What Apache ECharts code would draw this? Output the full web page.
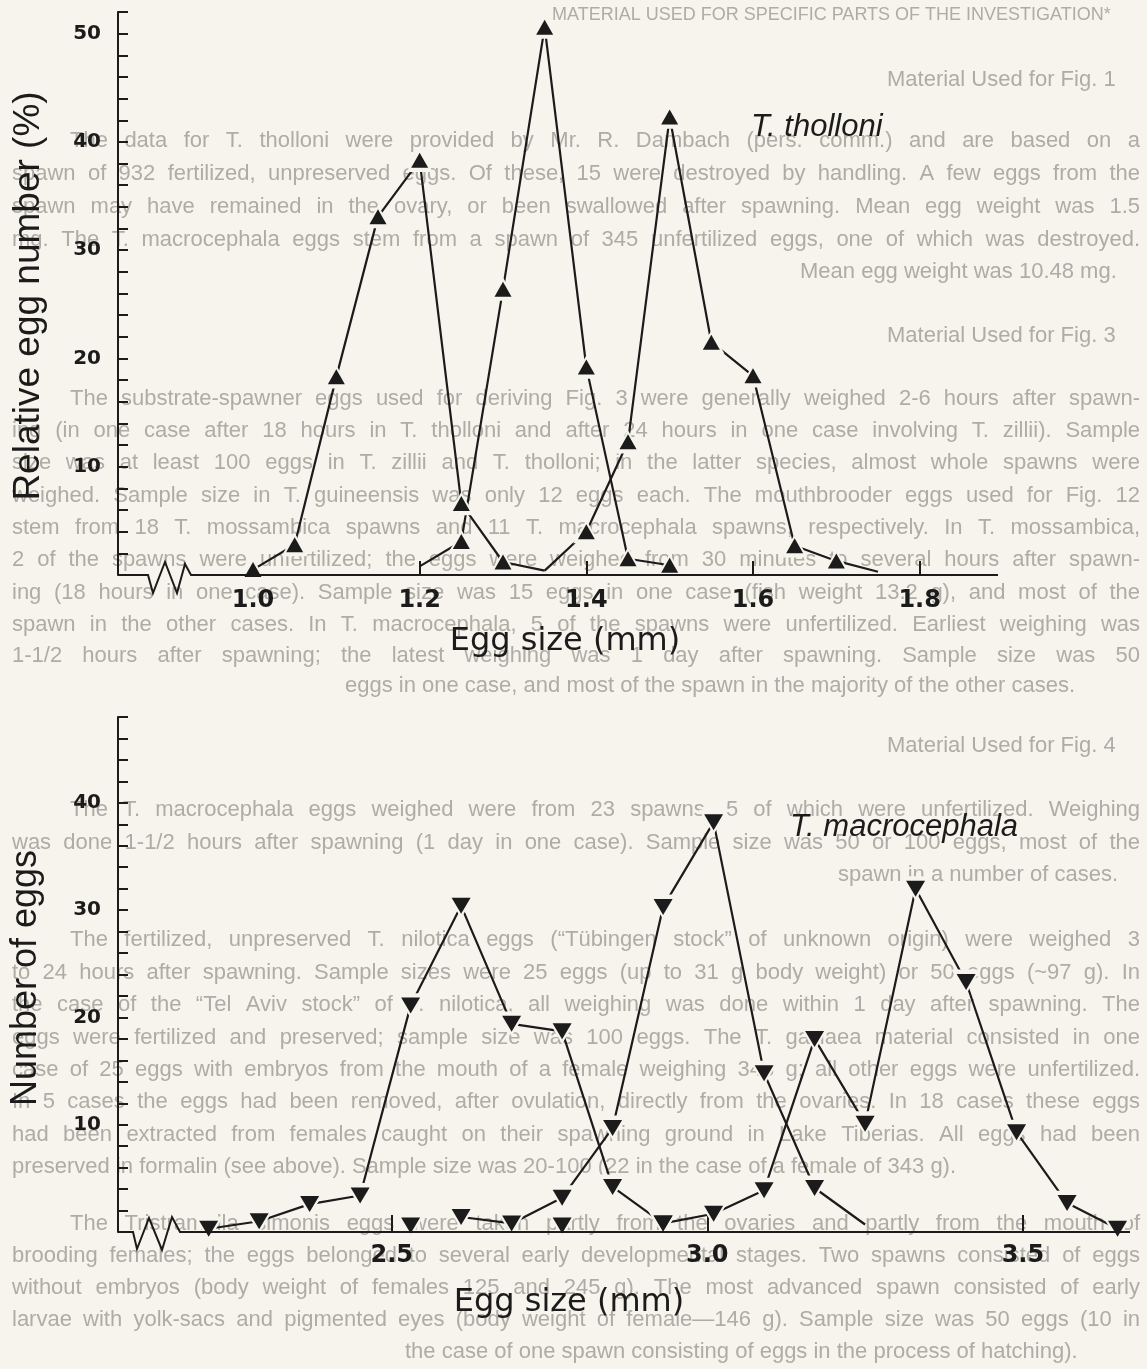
<!DOCTYPE html>
<html>
<head>
<meta charset="utf-8">
<script src="https://cdn.jsdelivr.net/npm/echarts@6/dist/echarts.min.js"></script>
<style>
  html, body { margin: 0; padding: 0; background: #f6f4ec; }
  #chart { width: 1147px; height: 1369px; }
</style>
</head>
<body>
<div id="chart"></div>
<script>
// ---- T. tholloni: relative egg number (%) per egg-size class, three spawns ----
const thollSize = [1.00, 1.05, 1.10, 1.15, 1.20, 1.25, 1.30, 1.35, 1.40, 1.45, 1.50, 1.55, 1.60, 1.65, 1.70, 1.75];
const thollPct1 = [0.5, 2.8, 18.3, 33.1, 38.3, 6.6, 1.2, 0.4, null, null, null, null, null, null, null, null];
const thollPct2 = [null, null, null, null, 0.8, 3.1, 26.4, 50.6, 19.2, 1.5, 0.9, null, null, null, null, null];
const thollPct3 = [null, null, null, null, null, null, null, 0.4, 4.0, 12.3, 42.3, 21.5, 18.4, 2.7, 1.3, 0.3];
// line ends that carry no marker
const thollBare1 = [7];
const thollBare2 = [4];
const thollBare3 = [7, 15];
const thollTicks = [1.2, 1.4, 1.6, 1.8];
const thollLabels = [1.0, 1.2, 1.4, 1.6, 1.8];

// ---- T. macrocephala: number of eggs per egg-size class, three spawns ----
const macroSize = [2.21, 2.29, 2.37, 2.45, 2.53, 2.61, 2.69, 2.77, 2.85, 2.93, 3.01, 3.09, 3.17, 3.25, 3.33, 3.41, 3.49, 3.57, 3.65];
const macroEggs1 = [0.3, 1.0, 2.6, 3.4, 21.1, 30.4, 19.4, 18.7, 4.2, 0.8, null, null, null, null, null, null, null, null, null];
const macroEggs2 = [null, null, null, null, null, 1.4, 0.8, 3.2, 9.7, 30.3, 38.2, 14.8, 4.1, 0.7, null, null, null, null, null];
const macroEggs3 = [null, null, null, null, null, null, null, null, null, 0.8, 1.7, 3.9, 18.0, 10.1, 32.0, 23.3, 9.3, 2.7, 0.3];
const macroSingle = [null, null, null, null, 0.6, null, null, 0.6, null, null, null, null, null, null, null, null, null, null, null];
const macroBare1 = [];
const macroBare2 = [13];
const macroBare3 = [];
const macroTicks = [2.5, 3.0, 3.5];

// ---- page text printed underneath the figure ----
const pageLines = [
  { y: 15,  x: 552, text: 'MATERIAL USED FOR SPECIFIC PARTS OF THE INVESTIGATION*', size: 18 },
  { y: 80,  x: 887, text: 'Material Used for Fig. 1' },
  { y: 141, indent: true, text: 'The data for T. tholloni were provided by Mr. R. Dambach (pers. comm.) and are based on a' },
  { y: 174, text: 'spawn of 932 fertilized, unpreserved eggs. Of these, 15 were destroyed by handling. A few eggs from the' },
  { y: 207, text: 'spawn may have remained in the ovary, or been swallowed after spawning. Mean egg weight was 1.5' },
  { y: 240, text: 'mg. The T. macrocephala eggs stem from a spawn of 345 unfertilized eggs, one of which was destroyed.' },
  { y: 272, x: 800, text: 'Mean egg weight was 10.48 mg.' },
  { y: 336, x: 887, text: 'Material Used for Fig. 3' },
  { y: 399, indent: true, text: 'The substrate-spawner eggs used for deriving Fig. 3 were generally weighed 2-6 hours after spawn-' },
  { y: 431, text: 'ing (in one case after 18 hours in T. tholloni and after 24 hours in one case involving T. zillii). Sample' },
  { y: 463, text: 'size was at least 100 eggs in T. zillii and T. tholloni; in the latter species, almost whole spawns were' },
  { y: 496, text: 'weighed. Sample size in T. guineensis was only 12 eggs each. The mouthbrooder eggs used for Fig. 12' },
  { y: 528, text: 'stem from 18 T. mossambica spawns and 11 T. macrocephala spawns, respectively. In T. mossambica,' },
  { y: 560, text: '2 of the spawns were unfertilized; the eggs were weighed from 30 minutes to several hours after spawn-' },
  { y: 593, text: 'ing (18 hours in one case). Sample size was 15 eggs in one case (fish weight 13.2 g), and most of the' },
  { y: 625, text: 'spawn in the other cases. In T. macrocephala, 5 of the spawns were unfertilized. Earliest weighing was' },
  { y: 656, text: '1-1/2 hours after spawning; the latest weighing was 1 day after spawning. Sample size was 50' },
  { y: 686, x: 345, text: 'eggs in one case, and most of the spawn in the majority of the other cases.' },
  { y: 746, x: 887, text: 'Material Used for Fig. 4' },
  { y: 810, indent: true, text: 'The T. macrocephala eggs weighed were from 23 spawns, 5 of which were unfertilized. Weighing' },
  { y: 843, text: 'was done 1-1/2 hours after spawning (1 day in one case). Sample size was 50 or 100 eggs, most of the' },
  { y: 875, x: 838, text: 'spawn in a number of cases.' },
  { y: 940, indent: true, text: 'The fertilized, unpreserved T. nilotica eggs (\u201cT\u00fcbingen stock\u201d of unknown origin) were weighed 3' },
  { y: 973, text: 'to 24 hours after spawning. Sample sizes were 25 eggs (up to 31 g body weight) or 50 eggs (~97 g). In' },
  { y: 1005, text: 'the case of the \u201cTel Aviv stock\u201d of T. nilotica, all weighing was done within 1 day after spawning. The' },
  { y: 1038, text: 'eggs were fertilized and preserved; sample size was 100 eggs. The T. galilaea material consisted in one' },
  { y: 1070, text: 'case of 25 eggs with embryos from the mouth of a female weighing 343 g; all other eggs were unfertilized.' },
  { y: 1102, text: 'In 5 cases the eggs had been removed, after ovulation, directly from the ovaries. In 18 cases these eggs' },
  { y: 1135, text: 'had been extracted from females caught on their spawning ground in Lake Tiberias. All eggs had been' },
  { y: 1167, x: 12, text: 'preserved in formalin (see above). Sample size was 20-100 (22 in the case of a female of 343 g).' },
  { y: 1224, indent: true, text: 'The Tristramella simonis eggs were taken partly from the ovaries and partly from the mouth of' },
  { y: 1256, text: 'brooding females; the eggs belonged to several early developmental stages. Two spawns consisted of eggs' },
  { y: 1288, text: 'without embryos (body weight of females 125 and 245 g). The most advanced spawn consisted of early' },
  { y: 1320, text: 'larvae with yolk-sacs and pigmented eyes (body weight of female\u2014146 g). Sample size was 50 eggs (10 in' },
  { y: 1352, x: 405, text: 'the case of one spawn consisting of eggs in the process of hatching).' }
];

const INK = '#1b1b1b';
const PAPER = '#f6f4ec';
const FADED = '#aeaca5';

function linePoints(sizes, vals) {
  const out = [];
  sizes.forEach((s, i) => { if (vals[i] != null) out.push([s, vals[i]]); });
  return out;
}
function markPoints(sizes, vals, bare) {
  const out = [];
  sizes.forEach((s, i) => { if (vals[i] != null && bare.indexOf(i) < 0) out.push([s, vals[i]]); });
  return out;
}

const series = [];
function addCurve(gi, sizes, vals, bare, down, noLine) {
  if (!noLine) {
    series.push({
      type: 'line', xAxisIndex: gi, yAxisIndex: gi, z: 2,
      data: linePoints(sizes, vals), showSymbol: false, symbol: 'none',
      lineStyle: { color: INK, width: 2.2 }, silent: true
    });
  }
  const pts = markPoints(sizes, vals, bare);
  const base = down ? [19, 16] : [17, 15];
  // paper-coloured halo keeps the joining lines clear of each marker
  series.push({
    type: 'scatter', xAxisIndex: gi, yAxisIndex: gi, z: 3,
    data: pts, symbol: 'triangle', symbolRotate: down ? 180 : 0,
    symbolSize: [base[0] * 1.55, base[1] * 1.55],
    itemStyle: { color: PAPER, opacity: 1 }, silent: true
  });
  series.push({
    type: 'scatter', xAxisIndex: gi, yAxisIndex: gi, z: 5,
    data: pts, symbol: 'triangle', symbolRotate: down ? 180 : 0,
    symbolSize: base, itemStyle: { color: INK, opacity: 1 }, silent: true
  });
}
addCurve(0, thollSize, thollPct1, thollBare1, false);
addCurve(0, thollSize, thollPct2, thollBare2, false);
addCurve(0, thollSize, thollPct3, thollBare3, false);
addCurve(1, macroSize, macroEggs1, macroBare1, true);
addCurve(1, macroSize, macroEggs2, macroBare2, true);
addCurve(1, macroSize, macroEggs3, macroBare3, true);
addCurve(1, macroSize, macroSingle, [], true, true);

function yAxisCfg(gi, max) {
  return {
    type: 'value', gridIndex: gi, min: 0, max: max, interval: 2,
    axisLine: { show: true, lineStyle: { color: INK, width: 2 } },
    axisTick: { show: true, inside: true, length: 10, lineStyle: { color: INK, width: 2 } },
    axisLabel: {
      margin: 17, color: INK, fontFamily: 'DejaVu Sans', fontWeight: 'bold', fontSize: 20,
      formatter: v => (v > 0 && v % 10 === 0) ? String(v) : ''
    },
    splitLine: { show: false }
  };
}

const option = {
  backgroundColor: PAPER,
  animation: false,
  grid: [
    { left: 118, top: 12, width: 880, height: 563 },
    { left: 118, top: 717, width: 1012, height: 515 }
  ],
  xAxis: [
    {
      type: 'value', gridIndex: 0, min: 0.838, max: 1.894,
      axisLine: { show: false },
      axisTick: { show: true, inside: true, length: 14, customValues: thollTicks, lineStyle: { color: INK, width: 2 } },
      axisLabel: { customValues: thollLabels, margin: 14, color: INK, fontFamily: 'DejaVu Sans', fontWeight: 'bold', fontSize: 24, formatter: v => v.toFixed(1) },
      splitLine: { show: false }
    },
    {
      type: 'value', gridIndex: 1, min: 2.0664, max: 3.6697,
      axisLine: { show: false },
      axisTick: { show: true, inside: true, length: 17, customValues: macroTicks, lineStyle: { color: INK, width: 2 } },
      axisLabel: { customValues: macroTicks, margin: 12, color: INK, fontFamily: 'DejaVu Sans', fontWeight: 'bold', fontSize: 24, formatter: v => v.toFixed(1) },
      splitLine: { show: false }
    }
  ],
  yAxis: [yAxisCfg(0, 52), yAxisCfg(1, 48)],
  series: series
};

const chart = echarts.init(document.getElementById('chart'), null, { renderer: 'canvas' });
chart.setOption(option);

// broken x-axis baselines with a zigzag near the origin
function baseline(gi, xmin, xmax, zig) {
  const p0 = chart.convertToPixel({ xAxisIndex: gi, yAxisIndex: gi }, [xmin, 0]);
  const p1 = chart.convertToPixel({ xAxisIndex: gi, yAxisIndex: gi }, [xmax, 0]);
  const pts = zig.map(d => [p0[0] + d[0], p0[1] + d[1]]);
  pts.push([p1[0], p1[1]]);
  return { type: 'polyline', z: 4, shape: { points: pts }, style: { stroke: INK, lineWidth: 2, fill: null } };
}
const topZig = [[0, 0], [30, 0], [35, 18], [47, -13], [59, 18], [67, -11], [73, 0]];
const botZig = [[0, 0], [15, 0], [19, 17], [31, -14], [44, 18], [54, -15], [62, 0]];

function label(text, x, y, opts) {
  return Object.assign({
    type: 'text', x: x, y: y, z: 6,
    style: Object.assign({
      text: text, fill: INK, fontFamily: 'Liberation Sans', fontSize: 36,
      align: 'center', verticalAlign: 'middle', textAlign: 'center', textVerticalAlign: 'middle'
    }, opts && opts.style)
  }, opts && opts.el);
}

// faint justified page text behind the plots
const measureCtx = document.createElement('canvas').getContext('2d');
function pageText() {
  const els = [];
  const left = 12, right = 1140, indent = 58;
  pageLines.forEach(ln => {
    let size = ln.size || 22;
    const start = left + (ln.indent ? indent : 0);
    if (ln.x == null) {
      measureCtx.font = size + 'px "Liberation Sans"';
      const natural = measureCtx.measureText(ln.text).width;
      if (natural > right - start) size = size * (right - start) / natural;
    }
    const base = { fill: FADED, fontFamily: 'Liberation Sans', fontSize: size, verticalAlign: 'middle', textVerticalAlign: 'middle', align: 'left', textAlign: 'left' };
    if (ln.x != null) {
      els.push({ type: 'text', x: ln.x, y: ln.y, z: 0, silent: true, style: Object.assign({ text: ln.text }, base) });
      return;
    }
    measureCtx.font = size + 'px "Liberation Sans"';
    const words = ln.text.split(' ');
    const widths = words.map(w => measureCtx.measureText(w).width);
    const total = widths.reduce((a, b) => a + b, 0);
    const gap = words.length > 1 ? (right - start - total) / (words.length - 1) : 0;
    let cx = start;
    words.forEach((w, i) => {
      els.push({ type: 'text', x: cx, y: ln.y, z: 0, silent: true, style: Object.assign({ text: w }, base) });
      cx += widths[i] + gap;
    });
  });
  return els;
}

chart.setOption({
  graphic: pageText().concat([
    baseline(0, 0.838, 1.894, topZig),
    baseline(1, 2.0664, 3.6697, botZig),
    label('Relative egg number (%)', 29, 296, { el: { rotation: Math.PI / 2 }, style: { fontSize: 37 } }),
    label('Number of eggs', 26, 978, { el: { rotation: Math.PI / 2 }, style: { fontSize: 36 } }),
    label('Egg size (mm)', 565, 642, { style: { fontFamily: 'DejaVu Sans', fontSize: 32 } }),
    label('Egg size (mm)', 569, 1303, { style: { fontFamily: 'DejaVu Sans', fontSize: 32 } }),
    label('T. tholloni', 751, 127, { style: { fontStyle: 'italic', fontSize: 31, align: 'left', textAlign: 'left' } }),
    label('T. macrocephala', 790, 827, { style: { fontStyle: 'italic', fontSize: 31, align: 'left', textAlign: 'left' } })
  ])
});
</script>
</body>
</html>
